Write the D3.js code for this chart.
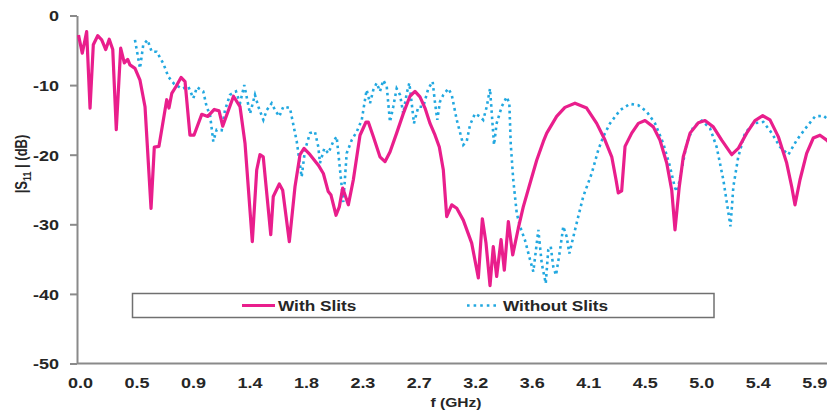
<!DOCTYPE html>
<html>
<head>
<meta charset="utf-8">
<script src="https://cdn.jsdelivr.net/npm/d3@7"></script>
<style>
  html, body { margin: 0; padding: 0; background: #fff; }
  svg { display: block; font-family: "Liberation Sans", Arial, sans-serif; font-weight: bold; }
</style>
</head>
<body>
<svg id="chart" width="827" height="415"></svg>
<script>
// Reflection coefficient |S11| (dB) versus frequency (GHz)
const freqWith = [0.00,0.03,0.052,0.065,0.092,0.118,0.153,0.185,0.217,0.245,0.273,0.301,0.336,0.365,0.392,0.41,0.45,0.49,0.53,0.578,0.604,0.641,0.703,0.721,0.743,0.777,0.817,0.849,0.888,0.92,0.982,1.03,1.082,1.12,1.149,1.235,1.287,1.327,1.385,1.42,1.446,1.472,1.532,1.552,1.60,1.627,1.68,1.725,1.765,1.797,1.845,1.911,1.951,1.99,2.012,2.052,2.078,2.105,2.15,2.19,2.243,2.291,2.309,2.349,2.402,2.442,2.482,2.535,2.588,2.641,2.681,2.721,2.761,2.801,2.841,2.875,2.907,2.934,2.974,3.014,3.066,3.133,3.186,3.218,3.247,3.279,3.305,3.332,3.367,3.393,3.425,3.46,3.504,3.544,3.598,3.651,3.704,3.731,3.81,3.876,3.956,4.049,4.129,4.195,4.249,4.283,4.301,4.328,4.355,4.408,4.461,4.514,4.58,4.633,4.687,4.727,4.753,4.787,4.819,4.873,4.939,4.992,5.058,5.125,5.205,5.257,5.324,5.39,5.452,5.51,5.576,5.643,5.683,5.709,5.749,5.802,5.855,5.908,5.962,6.0];
const s11With = [-2.8,-5.4,-3.5,-2.3,-13.3,-4.2,-2.9,-3.5,-4.9,-3.4,-4.9,-16.4,-4.7,-6.8,-6.3,-7.1,-7.6,-9.3,-13.1,-27.7,-18.9,-18.8,-12.1,-13.3,-11.2,-10.2,-8.9,-9.5,-17.2,-17.2,-14.2,-14.5,-13.5,-13.7,-15.9,-11.6,-13.1,-18.4,-32.5,-22.2,-20.0,-20.3,-31.5,-26.0,-24.2,-25.1,-32.5,-24.6,-20.0,-19.1,-20.0,-21.5,-22.7,-25.3,-25.8,-28.7,-27.5,-24.8,-27.2,-23.6,-17.2,-15.3,-15.3,-17.4,-20.3,-21.0,-19.6,-16.9,-14.1,-11.6,-10.9,-11.7,-13.3,-15.5,-17.2,-18.9,-22.2,-28.9,-27.2,-27.7,-29.4,-32.7,-37.7,-29.2,-32.7,-38.8,-33.2,-37.5,-32.2,-36.6,-29.6,-34.4,-30.6,-27.5,-24.1,-20.8,-18.1,-16.9,-14.5,-13.2,-12.6,-13.3,-15.5,-17.9,-20.3,-23.6,-25.5,-25.2,-18.8,-16.9,-15.5,-15.1,-16.0,-17.9,-21.2,-25.1,-30.8,-24.6,-20.3,-16.9,-15.4,-15.1,-16.0,-17.9,-20.0,-19.1,-16.9,-15.1,-14.4,-15.0,-17.4,-21.2,-24.6,-27.2,-23.6,-19.8,-17.6,-17.2,-17.9,-18.6];

const freqWithout = [0.45,0.49,0.516,0.55,0.583,0.623,0.676,0.716,0.761,0.822,0.875,0.915,0.944,0.994,1.021,1.048,1.074,1.101,1.141,1.167,1.207,1.255,1.287,1.321,1.34,1.367,1.406,1.433,1.473,1.50,1.539,1.566,1.60,1.632,1.685,1.712,1.739,1.778,1.805,1.845,1.884,1.911,1.924,1.959,1.99,2.03,2.057,2.084,2.11,2.137,2.177,2.217,2.257,2.283,2.296,2.323,2.349,2.376,2.402,2.429,2.456,2.482,2.508,2.535,2.562,2.588,2.615,2.636,2.655,2.673,2.708,2.747,2.787,2.822,2.841,2.859,2.88,2.907,2.947,2.974,3.014,3.066,3.093,3.12,3.159,3.199,3.225,3.253,3.279,3.311,3.332,3.372,3.412,3.433,3.444,3.464,3.492,3.518,3.558,3.598,3.624,3.645,3.664,3.691,3.723,3.743,3.763,3.783,3.805,3.837,3.863,3.89,3.911,3.943,3.982,4.022,4.089,4.142,4.182,4.235,4.315,4.394,4.461,4.527,4.594,4.66,4.713,4.753,4.771,4.806,4.846,4.899,4.966,5.032,5.085,5.138,5.195,5.218,5.257,5.311,5.377,5.457,5.524,5.59,5.656,5.723,5.802,5.869,5.935,5.964,6.0];
const s11Without = [-3.5,-7.6,-4.2,-3.5,-5.2,-5.2,-6.9,-8.8,-9.8,-10.5,-10.2,-11.9,-10.3,-10.9,-13.1,-14.3,-18.1,-16.4,-16.5,-13.6,-11.4,-10.9,-12.6,-10.0,-11.7,-14.1,-11.4,-13.1,-15.0,-13.6,-12.6,-13.6,-14.5,-13.1,-13.3,-15.7,-18.1,-23.2,-19.3,-16.9,-16.7,-18.9,-21.2,-19.1,-19.8,-18.1,-17.4,-22.2,-26.8,-19.8,-17.9,-16.7,-15.0,-12.1,-10.7,-12.6,-10.7,-9.7,-10.9,-9.3,-10.2,-15.3,-13.1,-10.5,-11.4,-14.1,-11.2,-9.7,-12.6,-15.5,-13.1,-13.1,-10.5,-9.5,-12.6,-15.0,-12.4,-11.4,-10.5,-11.4,-15.0,-18.6,-18.1,-15.7,-14.1,-14.5,-15.0,-13.1,-10.5,-18.6,-15.5,-13.1,-11.7,-12.6,-18.4,-23.6,-28.4,-30.3,-32.3,-35.1,-36.8,-33.7,-30.8,-35.6,-38.5,-33.7,-33.2,-36.1,-37.3,-33.7,-30.3,-31.8,-34.2,-31.8,-28.9,-26.0,-22.7,-19.3,-17.4,-15.5,-13.6,-12.7,-12.9,-13.8,-15.5,-18.4,-21.7,-24.8,-25.3,-22.2,-18.4,-16.0,-15.1,-16.2,-18.9,-23.6,-30.3,-24.6,-20.3,-16.9,-15.5,-15.3,-16.9,-18.9,-20.0,-17.9,-16.0,-14.5,-14.4,-14.8,-15.3];

// Category-style frequency labels every 0.45 GHz
const xTickValues = [0,0.45,0.9,1.35,1.8,2.25,2.7,3.15,3.6,4.05,4.5,4.95,5.4,5.85];
const xTickLabels = ["0.0","0.5","0.9","1.4","1.8","2.3","2.7","3.2","3.6","4.1","4.5","5.0","5.4","5.9"];
const yTickValues = [0,-10,-20,-30,-40,-50];

const seriesNames = ["With Slits", "Without Slits"];
const pink = "#E91E8C", blue = "#22A8E0";
const textColor = "#262626", axisColor = "#8a8a8a";
const stretch = 1.2;

const svg = d3.select("#chart");
const W = 827, H = 415;

const x = d3.scaleLinear().domain([0, 6]).range([78.5, 78.5 + 6 * 125.5]);
const y = d3.scaleLinear().domain([-50, 0]).range([363.5, 15.5]);

svg.append("defs").append("clipPath").attr("id", "plotClip")
  .append("rect").attr("x", 77).attr("y", 0).attr("width", W - 77).attr("height", 370);

// Y axis (plain hyphen for negative values)
const yAxis = svg.append("g").attr("transform", "translate(77,0)")
  .call(d3.axisLeft(y).tickValues(yTickValues).tickSize(7).tickSizeOuter(0).tickFormat(d => String(d)));
yAxis.select(".domain").attr("stroke", axisColor).attr("stroke-width", 2);
yAxis.selectAll(".tick line").attr("stroke", axisColor).attr("stroke-width", 2);
yAxis.selectAll(".tick text")
  .attr("x", null).attr("dy", "0.36em")
  .attr("transform", `translate(-18,0) scale(${stretch},1)`)
  .attr("text-anchor", "end")
  .attr("fill", textColor).style("font-size", "15px").style("font-weight", "bold");

// X axis
const xAxis = svg.append("g").attr("transform", `translate(0,${y(-50)})`)
  .call(d3.axisBottom(x).tickValues(xTickValues).tickSize(0).tickSizeOuter(0)
    .tickFormat((d, i) => xTickLabels[i]));
xAxis.select(".domain").attr("stroke", axisColor).attr("stroke-width", 2)
  .attr("d", `M77,0H${W}`);
xAxis.selectAll(".tick text")
  .attr("y", null).attr("dy", null)
  .attr("transform", `translate(1.5,24) scale(${stretch},1)`)
  .attr("fill", textColor).style("font-size", "15px").style("font-weight", "bold");

// Axis titles
svg.append("text")
  .attr("transform", `translate(456,407) scale(${stretch},1)`)
  .attr("text-anchor", "middle").attr("fill", textColor)
  .style("font-size", "13px").text("f (GHz)");

const yTitle = svg.append("text")
  .attr("transform", `translate(27,164) scale(${stretch},1) rotate(-90)`)
  .attr("text-anchor", "middle").attr("fill", textColor).style("font-size", "13px");
yTitle.append("tspan").text("|S");
yTitle.append("tspan").attr("dy", 3).style("font-size", "9px").text("11");
yTitle.append("tspan").attr("dy", -3).text(" | (dB)");

// Curves
const line = d3.line().x(d => x(d[0])).y(d => y(d[1]));
const plot = svg.append("g").attr("clip-path", "url(#plotClip)");

plot.append("path")
  .datum(d3.zip(freqWithout, s11Without))
  .attr("d", line).attr("fill", "none")
  .attr("stroke", blue).attr("stroke-width", 2.6)
  .attr("stroke-dasharray", "2.6 3.6");

plot.append("path")
  .datum(d3.zip(freqWith, s11With))
  .attr("d", line).attr("fill", "none")
  .attr("stroke", pink).attr("stroke-width", 3.2)
  .attr("stroke-linejoin", "round");

// Legend
const legend = svg.append("g");
legend.append("rect")
  .attr("x", 132.5).attr("y", 293.5).attr("width", 581.5).attr("height", 24)
  .attr("fill", "#fff").attr("stroke", "#707070").attr("stroke-width", 1.5);

const legendItems = [
  { name: seriesNames[0], x0: 242, color: pink, width: 3.2, dash: null },
  { name: seriesNames[1], x0: 467, color: blue, width: 2.6, dash: "2.6 4" }
];
legendItems.forEach(it => {
  legend.append("line")
    .attr("x1", it.x0).attr("x2", it.x0 + 33).attr("y1", 305.5).attr("y2", 305.5)
    .attr("stroke", it.color).attr("stroke-width", it.width)
    .attr("stroke-dasharray", it.dash);
  legend.append("text")
    .attr("transform", `translate(${it.x0 + 36},310.5) scale(${stretch - 0.05},1)`)
    .attr("fill", textColor).style("font-size", "15px").text(it.name);
});
</script>
</body>
</html>
